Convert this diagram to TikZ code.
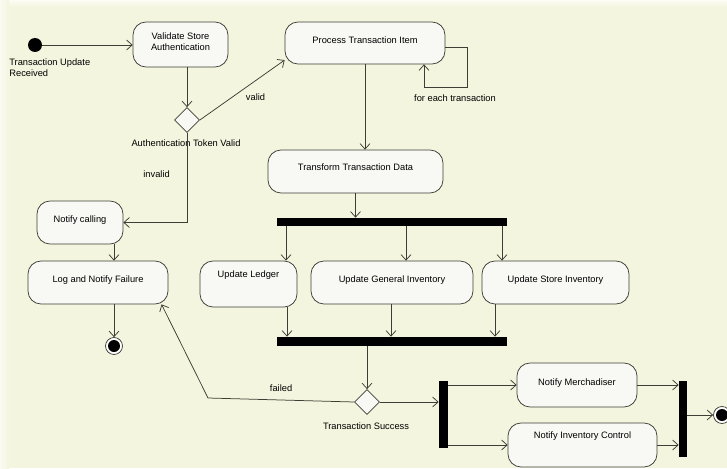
\documentclass[tikz,border=0pt]{standalone}
\usepackage{fontspec}
\setmainfont{Liberation Sans}
\usetikzlibrary{arrows.meta,shapes.geometric,positioning}

\definecolor{canvas}{RGB}{244,245,222}
\definecolor{boxfill}{RGB}{248,248,245}
\definecolor{edgegray}{RGB}{62,62,54}

\begin{document}
\begin{tikzpicture}[x=1pt,y=-1pt,>={Straight Barb[length=5.5pt,width=10pt]},line width=0.75pt,
    color=edgegray,text=black,font=\fontsize{9.3}{11.5}\selectfont]
  \tikzstyle{activity}=[draw=edgegray,fill=boxfill,rounded corners=13pt,text depth=6pt]
  \tikzstyle{decision}=[diamond,draw=edgegray,fill=boxfill,minimum width=25pt,minimum height=25pt,inner sep=0pt]
  \tikzstyle{bar}=[fill=black,inner sep=0pt]
  \tikzstyle{final}=[circle,draw=edgegray,fill=white,minimum size=17pt,inner sep=0pt,
    path picture={\fill[black] (path picture bounding box.center) circle (6pt);}]

  \useasboundingbox (0,0) rectangle (727,468);
  \fill[canvas] (0,0) rectangle (727,468);
  \shade[top color=white!70!canvas,bottom color=canvas] (0,0) rectangle (727,7);
  \shade[left color=white!60!canvas,right color=canvas] (0,0) rectangle (9,468);

  % start and authentication
  \node[circle,fill=black,minimum size=14pt,inner sep=0pt] (start) at (35,45) {};
  \node[anchor=north west,align=left,inner sep=0pt] (startlabel) at (9,58) {Transaction Update\\Received};
  \node[activity,minimum width=95pt,minimum height=45pt,align=center] (validate) at (180.5,44.5) {Validate Store\\Authentication};
  \node[decision] (token) at (187,120) {};
  \node[inner sep=0pt] (tokenlabel) at (186,143) {Authentication Token Valid};

  % main flow
  \node[activity,minimum width=160pt,minimum height=42pt] (process) at (365,43) {Process Transaction Item};
  \coordinate (loop) at (467,87);
  \node (eachlabel) at (455,98) {for each transaction};
  \node[activity,minimum width=175pt,minimum height=43pt,text depth=8pt] (transform) at (355.5,171.5) {Transform Transaction Data};
  \node[bar,minimum width=230pt,minimum height=8pt] (fork) at (392,222) {};
  \node[activity,minimum width=97pt,minimum height=46pt,text depth=20pt] (ledger) at (248.5,284) {Update Ledger};
  \node[activity,minimum width=162pt,minimum height=43pt] (general) at (392,282.5) {Update General Inventory};
  \node[activity,minimum width=147pt,minimum height=43pt] (store) at (555.5,282.5) {Update Store Inventory};
  \node[bar,minimum width=230pt,minimum height=9pt] (join) at (392,341.5) {};
  \node[decision] (success) at (367,402) {};
  \node (successlabel) at (366,426) {Transaction Success};
  \node[bar,minimum width=9pt,minimum height=67pt] (split) at (443.5,414.5) {};
  \node[activity,minimum width=120pt,minimum height=44pt] (merch) at (577,385) {Notify Merchadiser};
  \node[activity,minimum width=149pt,minimum height=44pt,text depth=19pt] (invctl) at (582.5,445) {Notify Inventory Control};
  \node[bar,minimum width=8pt,minimum height=76pt] (merge) at (683,419) {};
  \node[final] (done) at (722,415) {};

  % failure branch
  \node[activity,minimum width=86pt,minimum height=43pt] (notify) at (80,222.5) {Notify calling};
  \node[activity,minimum width=140pt,minimum height=43pt] (logfail) at (98,282.5) {Log and Notify Failure};
  \node[final] (failend) at (114,346) {};
  \coordinate (failbend) at (208,398);

  \draw[->] (start) -- (start -| validate.west);
  \draw[->] (validate.south -| token) -- (token.north);
  \draw[->] (token.east) -- node[pos=0.5,anchor=north west] {valid} (process.192);
  \draw[->] (process.-3) -| (loop) -| ([xshift=59pt]process.south);
  \draw[->] (process.south) -- (process.south |- transform.north);
  \draw[->] (transform.south) -- (transform.south |- fork.north);
  \foreach \n/\a/\b in {ledger/37.5/38.5, general/14/-1, store/-53.5/-60.5} {
    \draw[->] ([xshift=\a pt]\n.north |- fork.south) -- ([xshift=\a pt]\n.north);
    \draw[->] ([xshift=\b pt]\n.south) -- ([xshift=\b pt]\n.south |- join.north);
  }
  \draw[->] (join.south -| success) -- (success.north);
  \draw[->] (success.west) -- node[above=4.5pt] {failed} (failbend) -- (logfail.-19);
  \draw[->] (success.east) -- (success.east -| split.west);
  \draw[->] (split.east |- merch) -- (merch.west);
  \draw[->] (split.east |- invctl) -- (invctl.west);
  \draw[->] (merch.east) -- (merch.east -| merge.west);
  \draw[->] (invctl.east) -- (invctl.east -| merge.west);
  \draw[->] (merge.east |- done) -- (done.west);
  \draw[->] (token.south) |- node[pos=0.23,left=13.5pt] {invalid} (notify.east);
  \draw[->] (failend |- notify.south) -- (failend |- logfail.north);
  \draw[->] (failend |- logfail.south) -- (failend.north);
\end{tikzpicture}
\end{document}
